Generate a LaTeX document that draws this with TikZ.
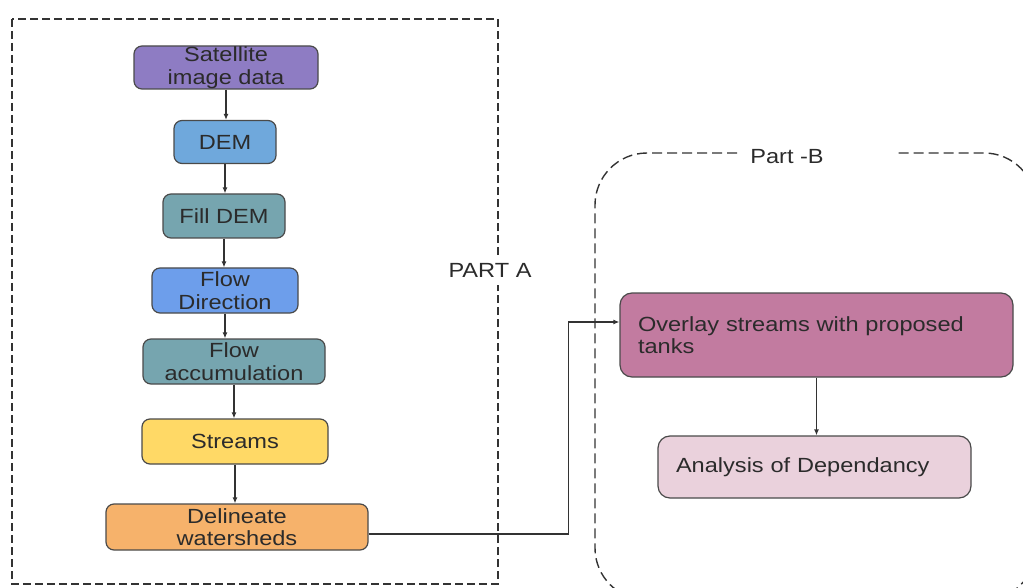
\documentclass[tikz,border=0pt]{standalone}
\usepackage{fontspec}
\setmainfont{Liberation Sans}[FakeStretch=1.15]
\usetikzlibrary{arrows.meta}

\definecolor{txt}{HTML}{2B2B2B}
\definecolor{boxline}{HTML}{4A4A4A}
\definecolor{lineclr}{HTML}{333333}
\definecolor{cSat}{HTML}{8E7CC3}
\definecolor{cDem}{HTML}{6FA8DC}
\definecolor{cTeal}{HTML}{76A5AF}
\definecolor{cDir}{HTML}{6D9EEB}
\definecolor{cStream}{HTML}{FFD966}
\definecolor{cDel}{HTML}{F6B26B}
\definecolor{cOver}{HTML}{C27BA0}
\definecolor{cAna}{HTML}{EAD1DC}

\begin{document}
\begin{tikzpicture}[x=1pt,y=-1pt,
  lbl/.style={font=\fontsize{20.5}{22.5}\selectfont, text=txt},
  box/.style={lbl, draw=boxline, line width=1.2pt, rounded corners=8pt,
    align=center, inner sep=0pt},
  wbox/.style={lbl, draw=boxline, line width=1.2pt, rounded corners=12pt,
    align=left, inner ysep=0pt, inner xsep=18pt},
  arr/.style={draw=lineclr, line width=1.4pt, -{Latex[length=6pt,width=5pt]}},
  frameline/.style={draw=lineclr, line width=1.4pt, dash pattern=on 8pt off 4pt}]
\useasboundingbox (0,0) rectangle (1023,588);

\begin{scope}
\clip (0,0) rectangle (1023,588);

% Part A frame
\draw[frameline] (12,19) rectangle (498,584);
\node[lbl, fill=white, inner xsep=3pt, inner ysep=8pt] (partA) at (490,270) {PART A};

% Part B frame, open at the top for its title
\draw[frameline, dash pattern=on 10pt off 5pt, rounded corners=52pt]
  (737,153) -- (595,153) -- (595,600) -- (1036,600) -- (1036,153) -- (895,153);
\node[lbl] (partB) at (787,157) {Part -B};

% Part A steps
\node[box, fill=cSat, minimum width=184pt, minimum height=43pt] (sat) at (226,67.5) {Satellite\\image data};
\node[box, fill=cDem, minimum width=102pt, minimum height=43pt] (dem) at (225,142) {DEM};
\node[box, fill=cTeal, minimum width=122pt, minimum height=44pt] (fill) at (224,216) {Fill DEM};
\node[box, fill=cDir, minimum width=146pt, minimum height=45pt] (dir) at (225,290.5) {Flow\\Direction};
\node[box, fill=cTeal, minimum width=182pt, minimum height=45pt] (acc) at (234,361.5) {Flow\\accumulation};
\node[box, fill=cStream, minimum width=186pt, minimum height=45pt] (str) at (235,441.5) {Streams};
\node[box, fill=cDel, minimum width=262pt, minimum height=46pt] (del) at (237,527) {Delineate\\watersheds};

% Part B steps
\node[wbox, fill=cOver, text width=357pt, minimum height=84pt] (ov) at (816.5,335) {Overlay streams with proposed\\tanks};
\node[wbox, fill=cAna, text width=277pt, minimum height=62pt] (an) at (814.5,467) {Analysis of Dependancy};

% connectors
\draw[arr] (sat) -- (sat |- dem.north);
\draw[arr] (dem) -- (dem |- fill.north);
\draw[arr] (fill) -- (fill |- dir.north);
\draw[arr] (dir) -- (dir |- acc.north);
\draw[arr] (acc) -- (acc |- str.north);
\draw[arr] (str) -- (str |- del.north);
\draw[arr] ([yshift=-7pt]del.east) -| ([xshift=-51pt,yshift=13pt]ov.west) -- ([yshift=13pt]ov.west);
\draw[arr] (ov) -- (ov |- an.north);
\end{scope}
\end{tikzpicture}
\end{document}
